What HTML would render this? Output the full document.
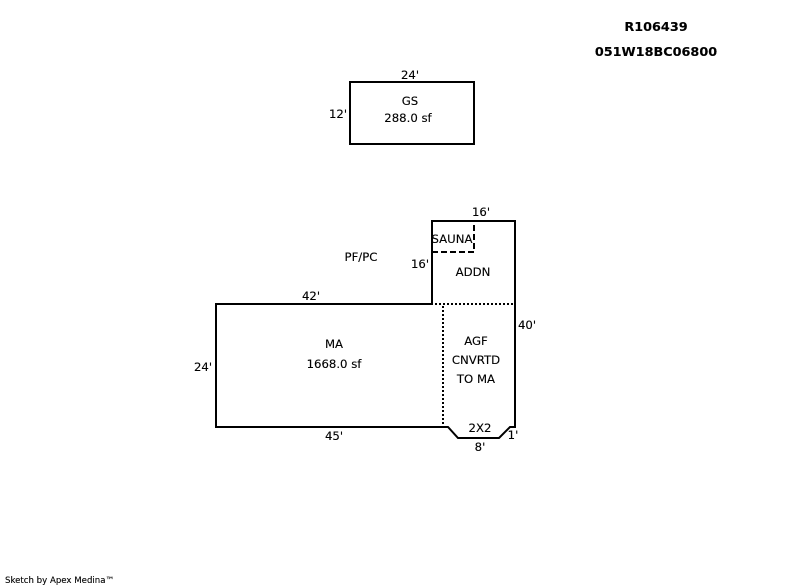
<!DOCTYPE html>
<html>
<head>
<meta charset="utf-8">
<style>
html,body{margin:0;padding:0;background:#fff;width:800px;height:587px;overflow:hidden}
svg{display:block}
text{font-family:"DejaVu Sans","Liberation Sans",sans-serif;font-size:11.7px;fill:#000;stroke:#000;stroke-width:.12;text-anchor:middle}
.b{font-weight:bold;font-size:12.8px}
.s{font-size:8.6px;text-anchor:start}
</style>
</head>
<body>
<svg width="800" height="587" viewBox="0 0 800 587" xmlns="http://www.w3.org/2000/svg">
<g fill="none" stroke="#000" stroke-width="2" shape-rendering="crispEdges">
<rect x="350" y="82" width="124" height="62"/>
</g>
<g fill="none" stroke="#000" stroke-width="2">
<path d="M216 304H432V221H515V427H510L499 438H458L448 427H216Z"/>
<path d="M432 252H474V221" stroke-dasharray="6 3"/>
</g>
<g fill="none" stroke="#000" stroke-width="2" stroke-dasharray="2 2">
<path d="M435 304H513"/>
<path d="M443 306V426"/>
</g>
<text class="b" x="656" y="31">R106439</text>
<text class="b" x="656" y="56">051W18BC06800</text>
<text x="410" y="79">24'</text>
<text x="338" y="118">12'</text>
<text x="410" y="105">GS</text>
<text x="408" y="122">288.0 sf</text>
<text x="481" y="216">16'</text>
<text x="452" y="243">SAUNA</text>
<text x="361" y="261">PF/PC</text>
<text x="420" y="268">16'</text>
<text x="473" y="276">ADDN</text>
<text x="311" y="300">42'</text>
<text x="527" y="329">40'</text>
<text x="334" y="348">MA</text>
<text x="334" y="368">1668.0 sf</text>
<text x="476" y="345">AGF</text>
<text x="476" y="364">CNVRTD</text>
<text x="476" y="383">TO MA</text>
<text x="203" y="371">24'</text>
<text x="480" y="432">2X2</text>
<text x="334" y="440">45'</text>
<text x="513" y="439">1'</text>
<text x="480" y="451">8'</text>
<text class="s" x="5" y="583">Sketch by Apex Medina™</text>
</svg>
</body>
</html>
